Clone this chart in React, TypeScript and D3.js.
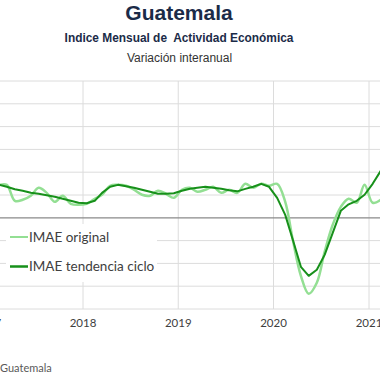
import React from "react";
import * as d3 from "d3";

const startYear = 2017;
const yearTicks = ["2017", "2018", "2019", "2020", "2021"];
const imaeOriginal = [
  2.63, 2.89, 2.89, 1.49, 1.58, 1.93, 2.63, 2.19, 1.4, 1.93, 1.23, 1.14,
  1.23, 1.67, 2.02, 2.81, 2.89, 2.81, 2.46, 2.02, 1.93, 2.37, 2.11, 1.75,
  2.46, 2.63, 2.28, 2.46, 2.72, 2.19, 2.46, 2.19, 2.98, 2.63, 2.98, 2.81,
  2.98, 1.4, -1.93, -5.09, -6.67, -5.7, -2.98, -0.61, 0.96, 1.67, 1.32, 2.89,
  1.32, 1.58, 2.46,
];
const imaeTendencia = [
  3.07, 2.89, 2.72, 2.5, 2.37, 2.19, 2.11, 1.97, 1.84, 1.67, 1.49, 1.32,
  1.27, 1.49, 2.19, 2.72, 2.89, 2.76, 2.63, 2.46, 2.28, 2.11, 2.11, 2.15,
  2.37, 2.54, 2.63, 2.72, 2.63, 2.54, 2.41, 2.32, 2.54, 2.72, 2.98, 2.72,
  1.75, 0.26, -1.93, -4.3, -5.09, -4.56, -3.25, -1.32, 0.61, 1.18, 1.49, 2.02,
  2.98, 4.12, 5.09,
];
const yTicks = [-8, -6, -4, -2, 0, 2, 4, 6, 8, 10, 12];
const legendLabels = ["IMAE original", "IMAE tendencia ciclo"];

const W = 380;
const H = 380;
const lightGreen = "#93df93";
const darkGreen = "#17901a";

export default function App() {
  const x = d3
    .scaleTime()
    .domain([new Date(2018, 0, 1), new Date(2021, 0, 1)])
    .range([83, 369]);
  const y = d3.scaleLinear().domain([-8, 12]).range([309, 81]);
  const dateOf = (i: number) => new Date(startYear, i, 15);

  const lineOrig = d3
    .line<number>()
    .x((_, i) => x(dateOf(i)))
    .y((d) => y(d))
    .curve(d3.curveCatmullRom.alpha(0.5));
  const lineTrend = d3
    .line<number>()
    .x((_, i) => x(dateOf(i)))
    .y((d) => y(d))
    .curve(d3.curveLinear);

  const yearDates = yearTicks.map((t) => new Date(+t, 0, 1));
  const tickFont = "Lato, 'Open Sans', sans-serif";

  return (
    <svg
      width={W}
      height={H}
      style={{ position: "absolute", left: 0, top: 0, background: "#fff" }}
    >
      <rect x={0} y={0} width={W} height={H} fill="#fff" />
      <text
        x={179}
        y={20}
        textAnchor="middle"
        fontFamily="'Liberation Sans', Arial, sans-serif"
        fontWeight="bold"
        fontSize={21}
        fill="#1b2b48"
      >
        Guatemala
      </text>
      <text
        x={179}
        y={42}
        textAnchor="middle"
        fontFamily="'Liberation Sans', Arial, sans-serif"
        fontWeight="bold"
        fontSize={11.9}
        fill="#1b2b48"
        style={{ whiteSpace: "pre" }}
      >
        {"Indice Mensual de  Actividad Económica"}
      </text>
      <text
        x={179.5}
        y={62}
        textAnchor="middle"
        fontFamily="'Liberation Sans', Arial, sans-serif"
        fontSize={12}
        fill="#333"
      >
        Variación interanual
      </text>

      {/* horizontal gridlines */}
      {yTicks
        .filter((t) => t !== 0)
        .map((t) => (
          <line
            key={"h" + t}
            x1={0}
            x2={W}
            y1={y(t)}
            y2={y(t)}
            stroke="#dcdcdc"
            strokeWidth={1}
          />
        ))}
      {/* vertical gridlines */}
      {yearDates.map((d, i) => (
        <line
          key={"v" + i}
          x1={x(d)}
          x2={x(d)}
          y1={81}
          y2={309}
          stroke="#dcdcdc"
          strokeWidth={1}
        />
      ))}
      <line x1={0} x2={W} y1={y(0)} y2={y(0)} stroke="#8a8a8a" strokeWidth={1.3} />

      <path
        d={lineOrig(imaeOriginal) || ""}
        fill="none"
        stroke={lightGreen}
        strokeWidth={2.5}
        strokeLinejoin="round"
      />
      <path
        d={lineTrend(imaeTendencia) || ""}
        fill="none"
        stroke={darkGreen}
        strokeWidth={2}
        strokeLinejoin="round"
      />

      {/* x tick labels */}
      {yearDates.map((d, i) => (
        <text
          key={"xt" + i}
          x={x(d)}
          y={327}
          textAnchor="middle"
          fontFamily={tickFont}
          fontSize={11.5}
          fill="#404040"
        >
          {yearTicks[i]}
        </text>
      ))}

      {/* legend */}
      <rect x={6} y={224} width={151} height={58} fill="#fff" />
      {legendLabels.map((lab, i) => (
        <g key={lab} transform={`translate(10, ${237 + i * 29.5})`}>
          <line
            x1={0}
            x2={18}
            y1={0}
            y2={0}
            stroke={i === 0 ? lightGreen : darkGreen}
            strokeWidth={i === 0 ? 2 : 2.5}
          />
          <text
            x={19}
            y={4.5}
            fontFamily={tickFont}
            fontSize={13.5}
            fill="#404040"
          >
            {lab}
          </text>
        </g>
      ))}

      <text
        x={0}
        y={372}
        fontFamily={tickFont}
        fontSize={11}
        fill="#595959"
      >
        Guatemala
      </text>
    </svg>
  );
}
